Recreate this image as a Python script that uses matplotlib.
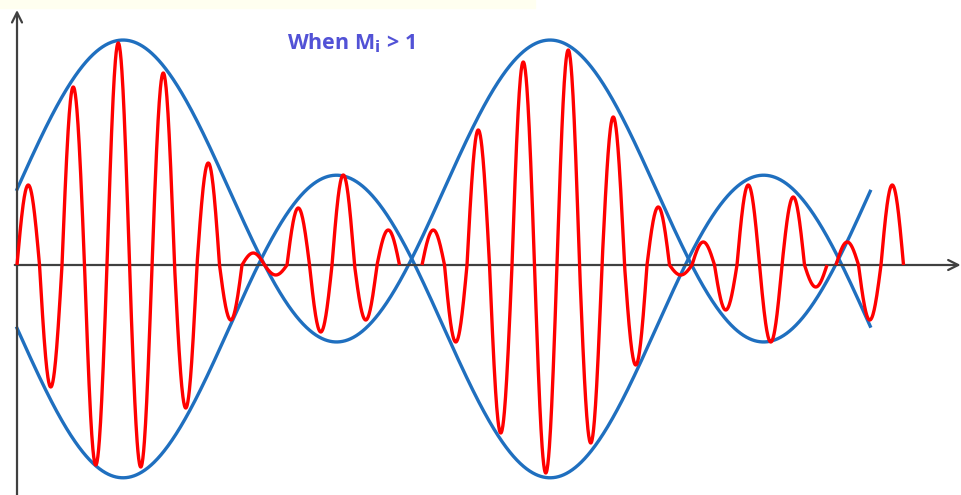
import numpy as np
import matplotlib.pyplot as plt

# over-modulated AM wave, units: x in carrier cycles, y in axis units
title_text = r'When M$_\mathbf{i}$ > 1'

# the two envelope curves are hand drawn slightly differently
upper_amp, upper_index = 74.0, 2.04
lower_amp, lower_index = 61.5, 2.46
mod_period = 9.49         # modulating period, in carrier cycles
mod_peak_at = 2.356       # position of first envelope maximum
envelope_end = 18.96      # where the blue envelope stops

# red wave drawn in pieces: (start cycle, half-cycle amplitudes)
red_pieces = [
    (0.0, [80, -122, 178, -200, 222, -202, 192, -143, 102, -55, 12, -10,
           57, -67, 90, -55, 35]),
    (9.0, [35, -77, 135, -168, 203, -208, 215, -178, 148, -100, 58, -10,
           23, -45, 80, -77, 68, -22]),
    (18.2, [23, -55, 80]),
]

fig = plt.figure(figsize=(9.62, 4.95), dpi=100)
ax = fig.add_axes([0, 0, 1, 1])
ax.set_xlim(-0.378, 21.0)
ax.set_ylim(-230, 265)
ax.axis('off')

# pale strip at the top left
ax.axhspan(257, 265, xmin=0, xmax=535 / 962, color='#fffff0', zorder=0)

# axes with arrows
ax.annotate('', xy=(0, 255), xytext=(0, -232),
            arrowprops=dict(arrowstyle='->', color='#404040', lw=1.6,
                            mutation_scale=18, shrinkA=0, shrinkB=0))
ax.annotate('', xy=(20.97, 0), xytext=(-0.05, 0),
            arrowprops=dict(arrowstyle='->', color='#404040', lw=1.6,
                            mutation_scale=18, shrinkA=0, shrinkB=0))

# envelope
t_env = np.linspace(0, envelope_end, 2000)
phase = np.cos(2 * np.pi * (t_env - mod_peak_at) / mod_period)
env_up = upper_amp * (1 + upper_index * phase)
env_lo = lower_amp * (1 + lower_index * phase)
ax.plot(t_env, env_up, color='#1f6fbf', lw=2.4, zorder=2)
ax.plot(t_env, -env_lo, color='#1f6fbf', lw=2.4, zorder=2)

# modulated carrier, one half-cycle lobe per amplitude
for start, amps in red_pieces:
    xs, ys = [], []
    for k, a in enumerate(amps):
        tt = np.linspace(0, 0.5, 60)
        xs.append(start + k * 0.5 + tt)
        ys.append(a * np.sin(2 * np.pi * tt))
    ax.plot(np.concatenate(xs), np.concatenate(ys), color='#ff0000', lw=2.4,
            zorder=3, solid_capstyle='butt')

ax.text(270 / 45 - 17 / 45 + 0.38, 222, title_text, color='#5252d6', fontsize=15.5,
        fontweight='bold', family='Open Sans', va='center', ha='left')

fig.savefig('out.png', dpi=100)
